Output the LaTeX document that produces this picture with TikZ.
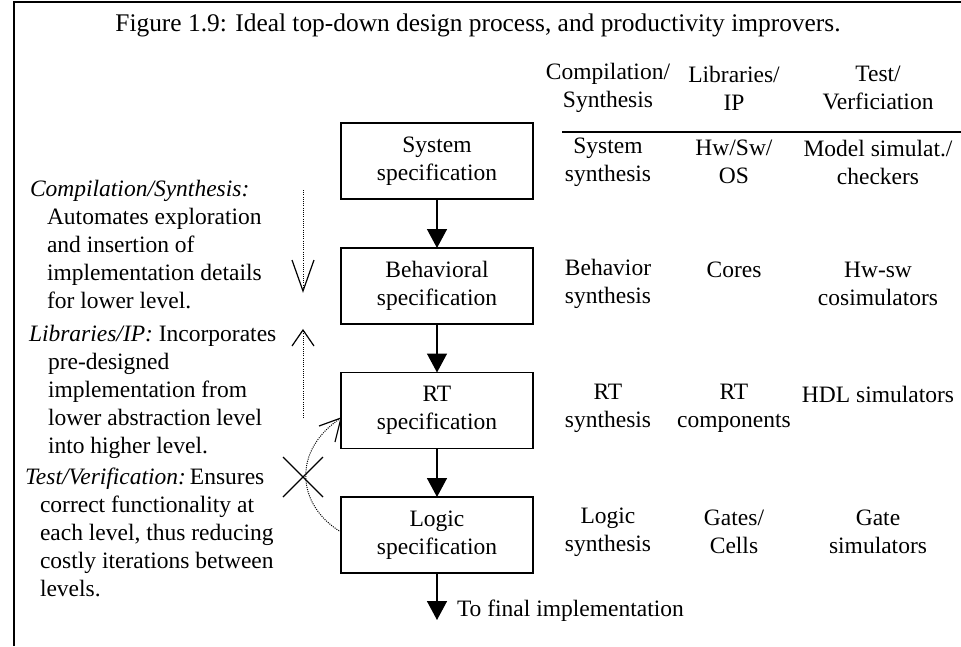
\documentclass[tikz,border=0pt]{standalone}
\usepackage{fontspec}
\setmainfont{Liberation Serif}
\usetikzlibrary{arrows.meta}
\begin{document}
\begin{tikzpicture}[x=1pt,y=-1pt,
  every node/.style={inner sep=0pt, outer sep=0pt, font=\fontsize{23.5}{28}\selectfont},
  specbox/.style={draw, line width=1.6pt, minimum width=192pt, minimum height=76pt, align=center},
  cell/.style={align=center},
  txt/.style={anchor=base west},
  arr/.style={line width=1.5pt, -{Triangle[width=20pt,length=19pt]}},
  dots/.style={line width=1pt, dash pattern=on 1pt off 1.2pt},
  barb/.style={line width=1.2pt}]
\useasboundingbox (0,0) rectangle (961,646);
% frame
\draw[line width=1.2pt] (14,646) -- (14,2) -- (961,2);
% title
\node[anchor=base, font=\fontsize{25.4}{30}\selectfont] (title) at (478,31) {Figure 1.9: Ideal top-down design process, and productivity improvers.};
% header
\node[cell] (h1) at (608,88) {Compilation/\\Synthesis};
\node[cell] (h2) at (734,88) {Libraries/\\IP};
\node[cell] (h3) at (878,88) {Test/\\Verficiation};
\coordinate (ruleL) at (562,132);
\coordinate (ruleR) at (961,132);
\draw[line width=1.6pt] (ruleL) -- (ruleR);
% boxes
\node[specbox] (sys) at (437,161) {System\\specification};
\node[specbox] (beh) at (437,286) {Behavioral\\specification};
\node[specbox] (rt) at (437,410.5) {RT\\specification};
\node[specbox] (log) at (437,535) {Logic\\specification};
\coordinate (fin) at (437,620);
\draw[arr] (sys) -- (beh);
\draw[arr] (beh) -- (rt);
\draw[arr] (rt) -- (log);
\draw[arr] (log) -- (fin);
\node[txt] (finl) at (457,616) {To final implementation};
% table rows
\node[cell] (r1a) at (608,162) {System\\synthesis};
\node[cell] (r1b) at (734,162) {Hw/Sw/\\OS};
\node[cell] (r1c) at (878,162) {Model simulat./\\checkers};
\node[cell] (r2a) at (608,283.5) {Behavior\\synthesis};
\node[cell] (r2b) at (734,270) {Cores};
\node[cell] (r2c) at (878,283.5) {Hw-sw\\cosimulators};
\node[cell] (r3a) at (608,408) {RT\\synthesis};
\node[cell] (r3b) at (734,408) {RT\\components};
\node[cell] (r3c) at (878,394) {HDL simulators};
\node[cell] (r4a) at (608,532) {Logic\\synthesis};
\node[cell] (r4b) at (734,532) {Gates/\\Cells};
\node[cell] (r4c) at (878,532) {Gate\\simulators};
% left text: compilation
\node[txt] (c1) at (30,196) {\textit{Compilation/Synthesis:}};
\node[txt] (c2) at (47,224) {Automates exploration};
\node[txt] (c3) at (47,252) {and insertion of};
\node[txt] (c4) at (47,280) {implementation details};
\node[txt] (c5) at (47,308) {for lower level.};
% libraries
\node[txt] (l1) at (29,341) {\textit{Libraries/IP:} Incorporates};
\node[txt] (l2) at (48,369) {pre-designed};
\node[txt] (l3) at (48,397) {implementation from};
\node[txt] (l4) at (48,425) {lower abstraction level};
\node[txt] (l5) at (48,453) {into higher level.};
% test
\node[txt] (t1) at (25,484) {\textit{Test/Verification:}\,Ensures};
\node[txt] (t2) at (40,512) {correct functionality at};
\node[txt] (t3) at (40,540) {each level, thus reducing};
\node[txt] (t4) at (40,568) {costly iterations between};
\node[txt] (t5) at (40,596) {levels.};
% down dotted arrow
\coordinate (dA) at (303,190);
\coordinate (dB) at (303,291);
\draw[dots] (dA) -- (dB);
\draw[barb] (dB) ++(-11,-31) -- (dB) -- ++(11,-31);
% up dotted arrow
\coordinate (uA) at (303,418);
\coordinate (uB) at (303,330);
\draw[dots] (uA) -- (uB);
\draw[barb] (uB) ++(-11,16) -- (uB) -- ++(11,16);
% iteration curve
\coordinate (cs) at (341,532);
\coordinate (ce) at (341,418);
\draw[dots] (cs) .. controls (296,505) and (292,450) .. (ce);
\draw[barb] (ce) -- ++(-22,8);
\draw[barb] (ce) -- ++(-6,24);
% cross
\coordinate (xc) at (303,477);
\draw[barb] (xc) ++(-20,-20) -- ++(40,40);
\draw[barb] (xc) ++(20,-20) -- ++(-40,40);
\end{tikzpicture}
\end{document}
